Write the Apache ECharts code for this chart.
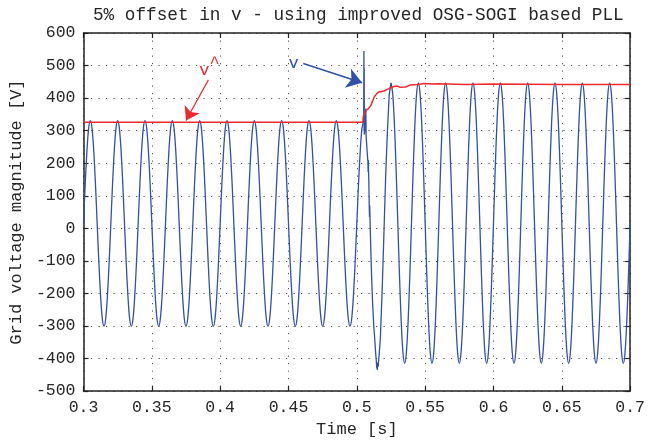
<!DOCTYPE html>
<html>
<head>
<meta charset="utf-8">
<script src="https://cdn.jsdelivr.net/npm/echarts@6/dist/echarts.min.js"></script>
<style>
html,body{margin:0;padding:0;background:#fff;}
#chart{width:648px;height:443px;}
</style>
</head>
<body>
<div id="chart"></div>
<script>
// ---- data ----
const titleText = '5% offset in v - using improved OSG-SOGI based PLL';
const xName = 'Time [s]';
const yName = 'Grid voltage magnitude [V]';
const xMin = 0.3, xMax = 0.7, xStep = 0.05;
const yMin = -500, yMax = 600, yStep = 100;

// measured grid voltage v, before the step (one row per cycle)
const vBefore = [
[0.30000,15],[0.30125,136],[0.30250,238],[0.30375,307],[0.30500,331],[0.30625,307],[0.30750,238],[0.30875,136],[0.31000,15],[0.31125,-106],[0.31250,-208],[0.31375,-277],[0.31500,-301],[0.31625,-277],[0.31750,-208],[0.31875,-106],
[0.32000,15],[0.32125,136],[0.32250,238],[0.32375,307],[0.32500,331],[0.32625,307],[0.32750,238],[0.32875,136],[0.33000,15],[0.33125,-106],[0.33250,-208],[0.33375,-277],[0.33500,-301],[0.33625,-277],[0.33750,-208],[0.33875,-106],
[0.34000,15],[0.34125,136],[0.34250,238],[0.34375,307],[0.34500,331],[0.34625,307],[0.34750,238],[0.34875,136],[0.35000,15],[0.35125,-106],[0.35250,-208],[0.35375,-277],[0.35500,-301],[0.35625,-277],[0.35750,-208],[0.35875,-106],
[0.36000,15],[0.36125,136],[0.36250,238],[0.36375,307],[0.36500,331],[0.36625,307],[0.36750,238],[0.36875,136],[0.37000,15],[0.37125,-106],[0.37250,-208],[0.37375,-277],[0.37500,-301],[0.37625,-277],[0.37750,-208],[0.37875,-106],
[0.38000,15],[0.38125,136],[0.38250,238],[0.38375,307],[0.38500,331],[0.38625,307],[0.38750,238],[0.38875,136],[0.39000,15],[0.39125,-106],[0.39250,-208],[0.39375,-277],[0.39500,-301],[0.39625,-277],[0.39750,-208],[0.39875,-106],
[0.40000,15],[0.40125,136],[0.40250,238],[0.40375,307],[0.40500,331],[0.40625,307],[0.40750,238],[0.40875,136],[0.41000,15],[0.41125,-106],[0.41250,-208],[0.41375,-277],[0.41500,-301],[0.41625,-277],[0.41750,-208],[0.41875,-106],
[0.42000,15],[0.42125,136],[0.42250,238],[0.42375,307],[0.42500,331],[0.42625,307],[0.42750,238],[0.42875,136],[0.43000,15],[0.43125,-106],[0.43250,-208],[0.43375,-277],[0.43500,-301],[0.43625,-277],[0.43750,-208],[0.43875,-106],
[0.44000,15],[0.44125,136],[0.44250,238],[0.44375,307],[0.44500,331],[0.44625,307],[0.44750,238],[0.44875,136],[0.45000,15],[0.45125,-106],[0.45250,-208],[0.45375,-277],[0.45500,-301],[0.45625,-277],[0.45750,-208],[0.45875,-106],
[0.46000,15],[0.46125,136],[0.46250,238],[0.46375,307],[0.46500,331],[0.46625,307],[0.46750,238],[0.46875,136],[0.47000,15],[0.47125,-106],[0.47250,-208],[0.47375,-277],[0.47500,-301],[0.47625,-277],[0.47750,-208],[0.47875,-106],
[0.48000,15],[0.48125,136],[0.48250,238],[0.48375,307],[0.48500,331],[0.48625,307],[0.48750,238],[0.48875,136],[0.49000,15],[0.49125,-106],[0.49250,-208],[0.49375,-277],[0.49500,-301],[0.49625,-277],[0.49750,-208],[0.49875,-106],
[0.50000,15],[0.50125,136],[0.50250,238],[0.50375,307],[0.50500,331]
];
// transient around the step
const vTransient = [
[0.5050,331],[0.5052,545],[0.5053,300],[0.5054,492],[0.5055,288],[0.5064,330],[0.5066,368],[0.5068,284],
[0.5076,232],[0.5081,205],[0.5083,172],[0.5084,210],[0.5088,140],[0.5091,65],[0.5093,35],[0.5094,70],
[0.5104,-93],[0.5110,-170],[0.5116,-234],[0.5124,-300],[0.5131,-340],[0.5138,-385],[0.5143,-410],
[0.5146,-430],[0.5148,-418],[0.5150,-435],[0.5153,-412],[0.5156,-425],[0.5162,-395],[0.5172,-340],
[0.5185,-195],[0.5198,-20],[0.5211,160],[0.5224,300],[0.5237,410],[0.5250,447]
];
// after the step (one row per cycle, starting at each peak)
const vAfter = [
[0.52500,447],[0.52625,414],[0.52750,321],[0.52875,181],[0.53000,16],[0.53125,-149],[0.53250,-289],[0.53375,-382],[0.53500,-415],[0.53625,-382],[0.53750,-289],[0.53875,-149],[0.54000,16],[0.54125,181],[0.54250,321],[0.54375,414],
[0.54500,447],[0.54625,414],[0.54750,321],[0.54875,181],[0.55000,16],[0.55125,-149],[0.55250,-289],[0.55375,-382],[0.55500,-415],[0.55625,-382],[0.55750,-289],[0.55875,-149],[0.56000,16],[0.56125,181],[0.56250,321],[0.56375,414],
[0.56500,447],[0.56625,414],[0.56750,321],[0.56875,181],[0.57000,16],[0.57125,-149],[0.57250,-289],[0.57375,-382],[0.57500,-415],[0.57625,-382],[0.57750,-289],[0.57875,-149],[0.58000,16],[0.58125,181],[0.58250,321],[0.58375,414],
[0.58500,447],[0.58625,414],[0.58750,321],[0.58875,181],[0.59000,16],[0.59125,-149],[0.59250,-289],[0.59375,-382],[0.59500,-415],[0.59625,-382],[0.59750,-289],[0.59875,-149],[0.60000,16],[0.60125,181],[0.60250,321],[0.60375,414],
[0.60500,447],[0.60625,414],[0.60750,321],[0.60875,181],[0.61000,16],[0.61125,-149],[0.61250,-289],[0.61375,-382],[0.61500,-415],[0.61625,-382],[0.61750,-289],[0.61875,-149],[0.62000,16],[0.62125,181],[0.62250,321],[0.62375,414],
[0.62500,447],[0.62625,414],[0.62750,321],[0.62875,181],[0.63000,16],[0.63125,-149],[0.63250,-289],[0.63375,-382],[0.63500,-415],[0.63625,-382],[0.63750,-289],[0.63875,-149],[0.64000,16],[0.64125,181],[0.64250,321],[0.64375,414],
[0.64500,447],[0.64625,414],[0.64750,321],[0.64875,181],[0.65000,16],[0.65125,-149],[0.65250,-289],[0.65375,-382],[0.65500,-415],[0.65625,-382],[0.65750,-289],[0.65875,-149],[0.66000,16],[0.66125,181],[0.66250,321],[0.66375,414],
[0.66500,447],[0.66625,414],[0.66750,321],[0.66875,181],[0.67000,16],[0.67125,-149],[0.67250,-289],[0.67375,-382],[0.67500,-415],[0.67625,-382],[0.67750,-289],[0.67875,-149],[0.68000,16],[0.68125,181],[0.68250,321],[0.68375,414],
[0.68500,447],[0.68625,414],[0.68750,321],[0.68875,181],[0.69000,16],[0.69125,-149],[0.69250,-289],[0.69375,-382],[0.69500,-415],[0.69625,-382],[0.69750,-289],[0.69875,-149],[0.70000,16]
];
// estimated amplitude v^
const vHat = [
[0.3000,326],[0.4000,326],[0.5044,326],[0.5048,345],[0.5066,361],[0.5085,368],[0.5102,377],[0.5126,402],
[0.5145,414],[0.5162,419],[0.5198,422],[0.5235,429],[0.5259,434],[0.5295,437],[0.5318,433],[0.5355,434],
[0.5390,440],[0.5450,442],[0.5490,445],[0.5550,443],[0.5600,444],[0.5800,442],[0.6000,443],[0.6500,442],
[0.7000,442]
];
// annotations (data coordinates)
const vHatArrow = [[0.3914,456],[0.3750,331]];
const vArrow = [[0.4608,506],[0.5039,447]];
const vHatLabel = [0.3884,486];
const vHatCaret = [0.3960,507];
const vLabel = [0.4537,505];

// ---- styles ----
const FONT = 'Liberation Mono';
const BLUE = '#3150a6';
const RED = '#ea2a2c';
const TXT = '#262626';
const gridLine = {show:true, lineStyle:{color:'#555', width:1, type:[1.2,6.3]}};

const chart = echarts.init(document.getElementById('chart'), null, {renderer:'canvas'});

function axisCommon(extra){
  return Object.assign({
    type:'value',
    axisLine:{show:true, onZero:false, lineStyle:{color:'#222', width:1.5}},
    axisTick:{show:true, inside:true, length:5, lineStyle:{color:'#222', width:1.2}},
    minorTick:{show:false}
  }, extra);
}

function arrowLine(pair, color, size, width){
  return {silent:true, animation:false, symbol:['none','arrow'], symbolSize:size,
    lineStyle:{color:color, width:width, type:'solid'}, label:{show:false},
    data:[[{coord:pair[0], symbol:'none'},{coord:pair[1], symbol:'arrow', symbolSize:size}]]};
}

const option = {
  animation:false,
  backgroundColor:'#fff',
  title:{
    text:titleText, left:88, top:1, textAlign:'left',
    textStyle:{fontFamily:FONT, fontSize:17.7, fontWeight:'normal', color:TXT}
  },
  grid:{left:80, right:16, top:33, bottom:44.5, containLabel:false},
  xAxis:[
    axisCommon({min:xMin, max:xMax, interval:xStep, position:'bottom',
      name:xName, nameLocation:'middle', nameGap:26,
      nameTextStyle:{fontFamily:FONT, fontSize:17, color:TXT},
      axisLabel:{fontFamily:FONT, fontSize:16.5, color:TXT, margin:8},
      splitLine:gridLine}),
    axisCommon({min:xMin, max:xMax, interval:xStep, position:'top',
      axisLabel:{show:false}, splitLine:{show:false}})
  ],
  yAxis:[
    axisCommon({min:yMin, max:yMax, interval:yStep, position:'left',
      name:yName, nameLocation:'middle', nameGap:55,
      nameTextStyle:{fontFamily:FONT, fontSize:17, color:TXT},
      axisLabel:{fontFamily:FONT, fontSize:16.5, color:TXT, margin:8},
      splitLine:gridLine}),
    axisCommon({min:yMin, max:yMax, interval:yStep, position:'right',
      axisLabel:{show:false}, splitLine:{show:false}})
  ],
  series:[
    {type:'line', data:vBefore, xAxisIndex:0, yAxisIndex:0, showSymbol:false, smooth:0.3,
     lineStyle:{color:BLUE, width:1.3}, z:2},
    {type:'line', data:vTransient, xAxisIndex:0, yAxisIndex:0, showSymbol:false, smooth:false,
     lineStyle:{color:BLUE, width:1.3}, z:2},
    {type:'line', data:vAfter, xAxisIndex:0, yAxisIndex:0, showSymbol:false, smooth:0.3,
     lineStyle:{color:BLUE, width:1.3}, z:2,
     markLine:arrowLine(vArrow, BLUE, 15, 1.6),
     markPoint:{silent:true, animation:false, symbol:'circle', symbolSize:0,
       label:{show:true, position:'inside', fontFamily:FONT, fontSize:17, color:BLUE},
       data:[{coord:vLabel, value:'v', label:{formatter:'v'}}]}
    },
    {type:'line', data:vHat, xAxisIndex:0, yAxisIndex:0, showSymbol:false, smooth:false,
     lineStyle:{color:RED, width:1.5}, z:3,
     markLine:arrowLine(vHatArrow, RED, 13, 1.2),
     markPoint:{silent:true, animation:false, symbol:'circle', symbolSize:0,
       label:{show:true, position:'inside', fontFamily:FONT, fontSize:17, color:RED},
       data:[{coord:vHatLabel, value:'v', label:{formatter:'v'}},
             {coord:vHatCaret, value:'^', label:{formatter:'^'}}]}
    }
  ]
};
chart.setOption(option);
</script>
</body>
</html>
